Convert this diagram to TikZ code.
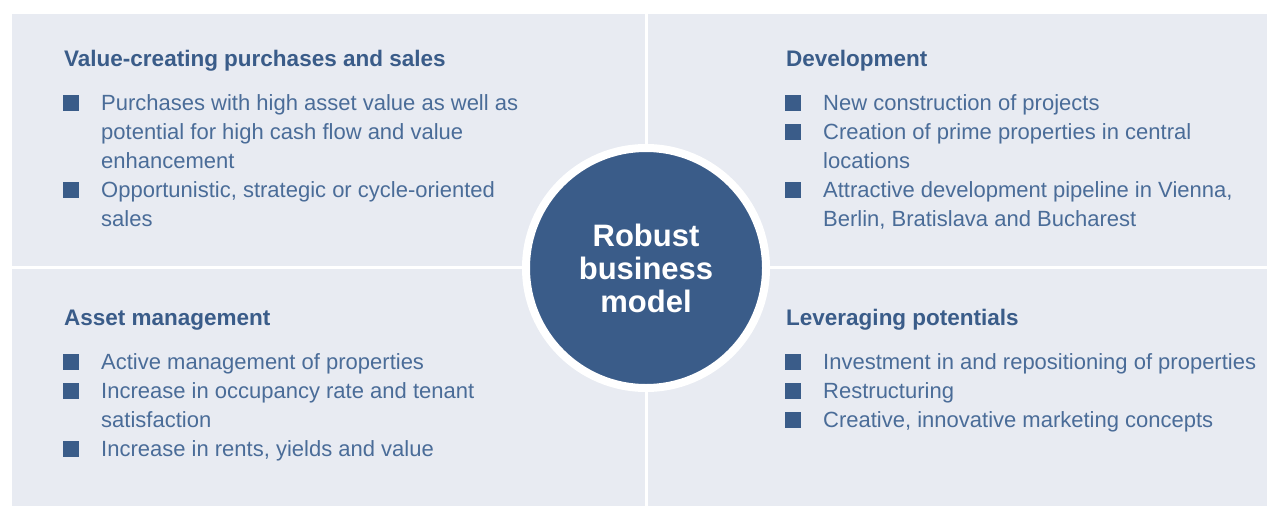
\documentclass[tikz,border=0pt]{standalone}
\usepackage{fontspec}
\setmainfont{Liberation Sans}
\definecolor{panel}{HTML}{E8EBF2}
\definecolor{navy}{HTML}{3A5C89}
\definecolor{ink}{HTML}{4A6C98}
\tikzset{
  head/.style={anchor=base west, inner sep=0pt, text=navy,
    font=\bfseries\fontsize{22.5}{29}\selectfont},
  item/.style={anchor=base west, inner sep=0pt, align=left, text=ink,
    font=\fontsize{22}{29}\selectfont},
  sq/.style={fill=navy, minimum size=15.5pt, inner sep=0pt, anchor=south west},
}
\begin{document}
\begin{tikzpicture}[x=1pt,y=-1pt]
  \useasboundingbox (0,0) rectangle (1267,506);
  % four panels
  \fill[panel] (12,14) rectangle (645,266);
  \fill[panel] (648,14) rectangle (1267,266);
  \fill[panel] (12,269) rectangle (645,506);
  \fill[panel] (648,269) rectangle (1267,506);
  % top left (item nodes sit on the baseline of their last line)
  \node[head] (vcHead) at (64,66) {Value-creating purchases and sales};
  \node[sq] (vcSqA) at (63,111) {};
  \node[item] (vcA) at (101,168) {Purchases with high asset value as well as\\potential for high cash flow and value\\enhancement};
  \node[sq] (vcSqB) at (63,198) {};
  \node[item] (vcB) at (101,226) {Opportunistic, strategic or cycle-oriented\\sales};
  % top right
  \node[head] (devHead) at (786,66) {Development};
  \node[sq] (devSqA) at (785,111) {};
  \node[item] (devA) at (823,110) {New construction of projects};
  \node[sq] (devSqB) at (785,140) {};
  \node[item] (devB) at (823,168) {Creation of prime properties in central\\locations};
  \node[sq] (devSqC) at (785,198) {};
  \node[item] (devC) at (823,226) {Attractive development pipeline in Vienna,\\Berlin, Bratislava and Bucharest};
  % bottom left
  \node[head] (amHead) at (64,325) {Asset management};
  \node[sq] (amSqA) at (63,370) {};
  \node[item] (amA) at (101,369) {Active management of properties};
  \node[sq] (amSqB) at (63,399) {};
  \node[item] (amB) at (101,427) {Increase in occupancy rate and tenant\\satisfaction};
  \node[sq] (amSqC) at (63,457) {};
  \node[item] (amC) at (101,456) {Increase in rents, yields and value};
  % bottom right
  \node[head] (lpHead) at (786,325) {Leveraging potentials};
  \node[sq] (lpSqA) at (785,370) {};
  \node[item] (lpA) at (823,369) {Investment in and repositioning of properties};
  \node[sq] (lpSqB) at (785,399) {};
  \node[item] (lpB) at (823,398) {Restructuring};
  \node[sq] (lpSqC) at (785,428) {};
  \node[item] (lpC) at (823,427) {Creative, innovative marketing concepts};
  % centre
  \node[circle, fill=navy, draw=white, line width=8pt, minimum size=240pt,
    align=center, text=white, font=\bfseries\fontsize{31}{33}\selectfont]
    (hub) at (646,268) {Robust\\business\\model};
\end{tikzpicture}
\end{document}
